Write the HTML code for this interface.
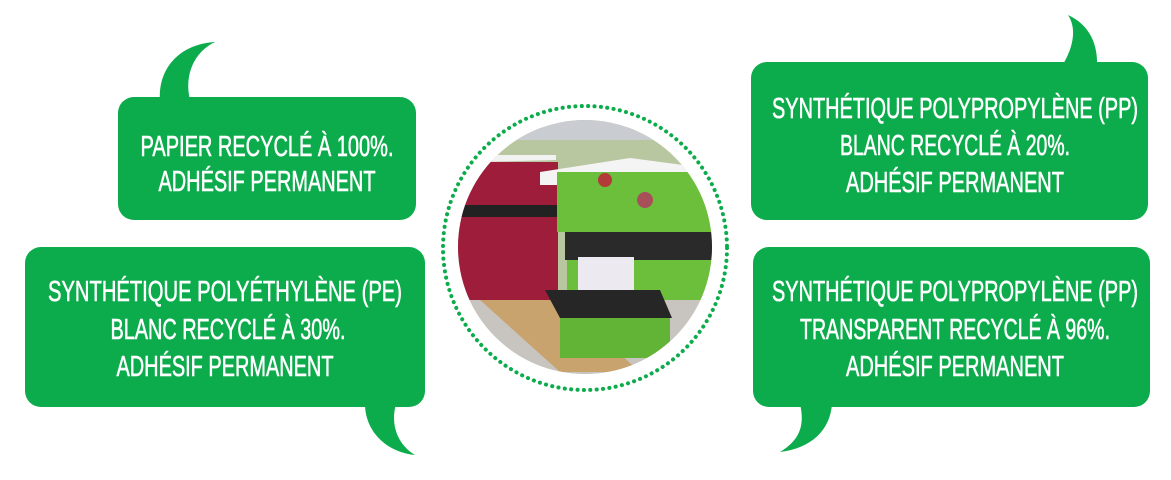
<!DOCTYPE html>
<html><head><meta charset="utf-8"><style>
html,body{margin:0;padding:0;background:#fff;}
svg{display:block}
text{font-family:"Liberation Sans Narrow","Liberation Sans",sans-serif;fill:#fff;stroke:#fff;stroke-width:0.6;font-size:29px;text-anchor:middle;}
</style></head><body>
<svg width="1171" height="480" viewBox="0 0 1171 480" xmlns="http://www.w3.org/2000/svg">
<defs><clipPath id="c"><circle cx="585" cy="247" r="127"/></clipPath></defs>
<g fill="#0cac4c">
<rect x="118" y="97" width="298" height="123" rx="16"/>
<path d="M160,100 C158,68 180,44 215,42 C194,52 184,75 190,100 Z"/>
<rect x="25" y="247" width="400" height="160" rx="16"/>
<path d="M365,404 C365,430 385,452 415,455 C398,445 390,425 396,404 Z"/>
<rect x="751" y="62" width="397" height="158" rx="16"/>
<path d="M1062,66 C1075,45 1076,27 1068,15 C1090,25 1098,45 1097,66 Z"/>
<rect x="753" y="247" width="397" height="160" rx="16"/>
<path d="M800,404 C805,425 800,440 780,452 C812,448 830,430 832,404 Z"/>
</g>
<circle cx="585" cy="248" r="142" fill="none" stroke="#0cac4c" stroke-width="4" stroke-dasharray="0.1 6.3" stroke-linecap="round"/>
<g clip-path="url(#c)">
<rect x="450" y="110" width="280" height="270" fill="#b9c7a0"/>
<rect x="450" y="110" width="280" height="30" fill="#c9ccd0"/>
<rect x="450" y="290" width="280" height="90" fill="#c8c4c0"/>
<polygon points="480,300 560,300 640,372 560,372" fill="#c9a36e"/>
<polygon points="480,162 556,160 556,155 470,155" fill="#f2f2f2"/>
<rect x="458" y="162" width="100" height="138" fill="#9e1d3a"/>
<rect x="458" y="205" width="100" height="12" fill="#222"/>
<polygon points="540,172 630,158 720,170 720,185 540,185" fill="#f4f4f4"/>
<rect x="557" y="172" width="160" height="60" fill="#6cbf3a"/>
<rect x="565" y="232" width="150" height="28" fill="#2a2a2a"/>
<rect x="567" y="260" width="148" height="40" fill="#6cbf3a"/>
<rect x="578" y="257" width="56" height="33" fill="#eceaf0"/>
<polygon points="545,290 660,290 672,318 560,318" fill="#262626"/>
<rect x="560" y="318" width="110" height="40" fill="#62b436"/>
<circle cx="605" cy="180" r="7" fill="#b43a3a"/>
<circle cx="645" cy="200" r="8" fill="#a8505a"/>
</g>
<g>
<text x="267" y="156" textLength="253" lengthAdjust="spacingAndGlyphs">PAPIER RECYCLÉ À 100%.</text>
<text x="267" y="191" textLength="217" lengthAdjust="spacingAndGlyphs">ADHÉSIF PERMANENT</text>
<text x="225" y="301" textLength="354" lengthAdjust="spacingAndGlyphs">SYNTHÉTIQUE POLYÉTHYLÈNE (PE)</text>
<text x="228" y="339" textLength="235" lengthAdjust="spacingAndGlyphs">BLANC RECYCLÉ À 30%.</text>
<text x="225" y="376" textLength="217" lengthAdjust="spacingAndGlyphs">ADHÉSIF PERMANENT</text>
<text x="955" y="118" textLength="366" lengthAdjust="spacingAndGlyphs">SYNTHÉTIQUE POLYPROPYLÈNE (PP)</text>
<text x="955" y="155" textLength="230" lengthAdjust="spacingAndGlyphs">BLANC RECYCLÉ À 20%.</text>
<text x="955" y="192" textLength="218" lengthAdjust="spacingAndGlyphs">ADHÉSIF PERMANENT</text>
<text x="955" y="301" textLength="366" lengthAdjust="spacingAndGlyphs">SYNTHÉTIQUE POLYPROPYLÈNE (PP)</text>
<text x="955" y="339" textLength="310" lengthAdjust="spacingAndGlyphs">TRANSPARENT RECYCLÉ À 96%.</text>
<text x="955" y="376" textLength="218" lengthAdjust="spacingAndGlyphs">ADHÉSIF PERMANENT</text>
</g>
</svg>
</body></html>
